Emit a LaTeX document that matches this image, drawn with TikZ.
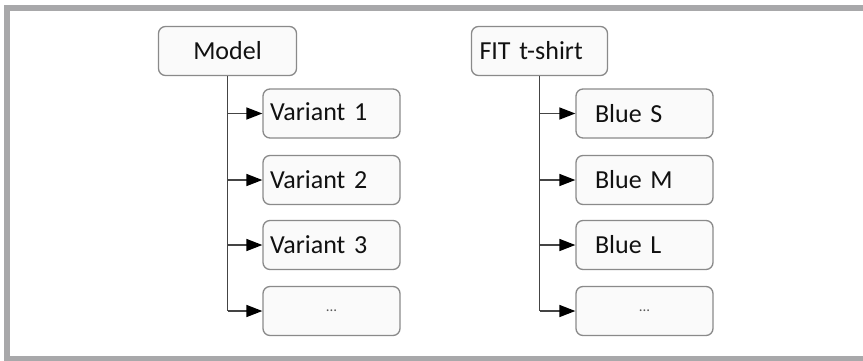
\documentclass[tikz,border=0pt]{standalone}
\usepackage{fontspec}
\setmainfont{Carlito}
\usetikzlibrary{arrows.meta}
\definecolor{framegray}{HTML}{A8A8AA}
\definecolor{boxline}{HTML}{8A8A8A}
\definecolor{boxfill}{HTML}{FAFAFA}
\definecolor{linegray}{HTML}{444444}
\definecolor{txt}{HTML}{111111}
\tikzset{
  box/.style={draw=boxline, fill=boxfill, line width=1.3pt, rounded corners=7pt,
    minimum height=49pt, text=txt, font=\fontsize{26}{30}\selectfont},
  leafbox/.style={box, minimum width=137pt, text width=137pt-2*#1, inner xsep=#1, align=left},
  dotsbox/.style={box, minimum width=137pt, text=black!65, font=\fontsize{15}{17}\selectfont},
  conn/.style={draw=linegray, line width=1.6pt},
  arr/.style={conn, -{Triangle[length=16pt,width=12pt,black]}}
}
\begin{document}
\begin{tikzpicture}[x=1pt,y=-1pt]
\useasboundingbox (0,0) rectangle (863,360);
\begin{scope}
\clip (0,0) rectangle (863,360);
\draw[framegray, line width=6pt] (7,8) rectangle (880,359);
\end{scope}

% left tree
\node[box, minimum width=138pt] (model) at (227.5,51) {Model};
\node[leafbox=7pt] (v1) at (331.5,113.5) {\raisebox{3pt}{Variant 1}};
\node[leafbox=7pt] (v2) at (331.5,180) {Variant 2};
\node[leafbox=7pt] (v3) at (331.5,245) {Variant 3};
\node[dotsbox] (d1) at (331.5,311) {...};

\draw[conn] (model.south) -- (model.south |- d1.west);
\foreach \n in {v1,v2,v3,d1}
  \draw[arr] (model.south |- \n.west) -- (\n.west);

% right tree
\node[box, minimum width=136pt, text width=136pt-16pt, inner xsep=8pt, align=left] (fit) at (539.5,51) {FIT t-shirt};
\node[leafbox=19pt] (bs) at (644.5,113.5) {Blue S};
\node[leafbox=19pt] (bm) at (644.5,180) {Blue M};
\node[leafbox=19pt] (bl) at (644.5,245) {Blue L};
\node[dotsbox] (d2) at (644.5,311) {...};

\draw[conn] (fit.south) -- (fit.south |- d2.west);
\foreach \n in {bs,bm,bl,d2}
  \draw[arr] (fit.south |- \n.west) -- (\n.west);
\end{tikzpicture}
\end{document}
